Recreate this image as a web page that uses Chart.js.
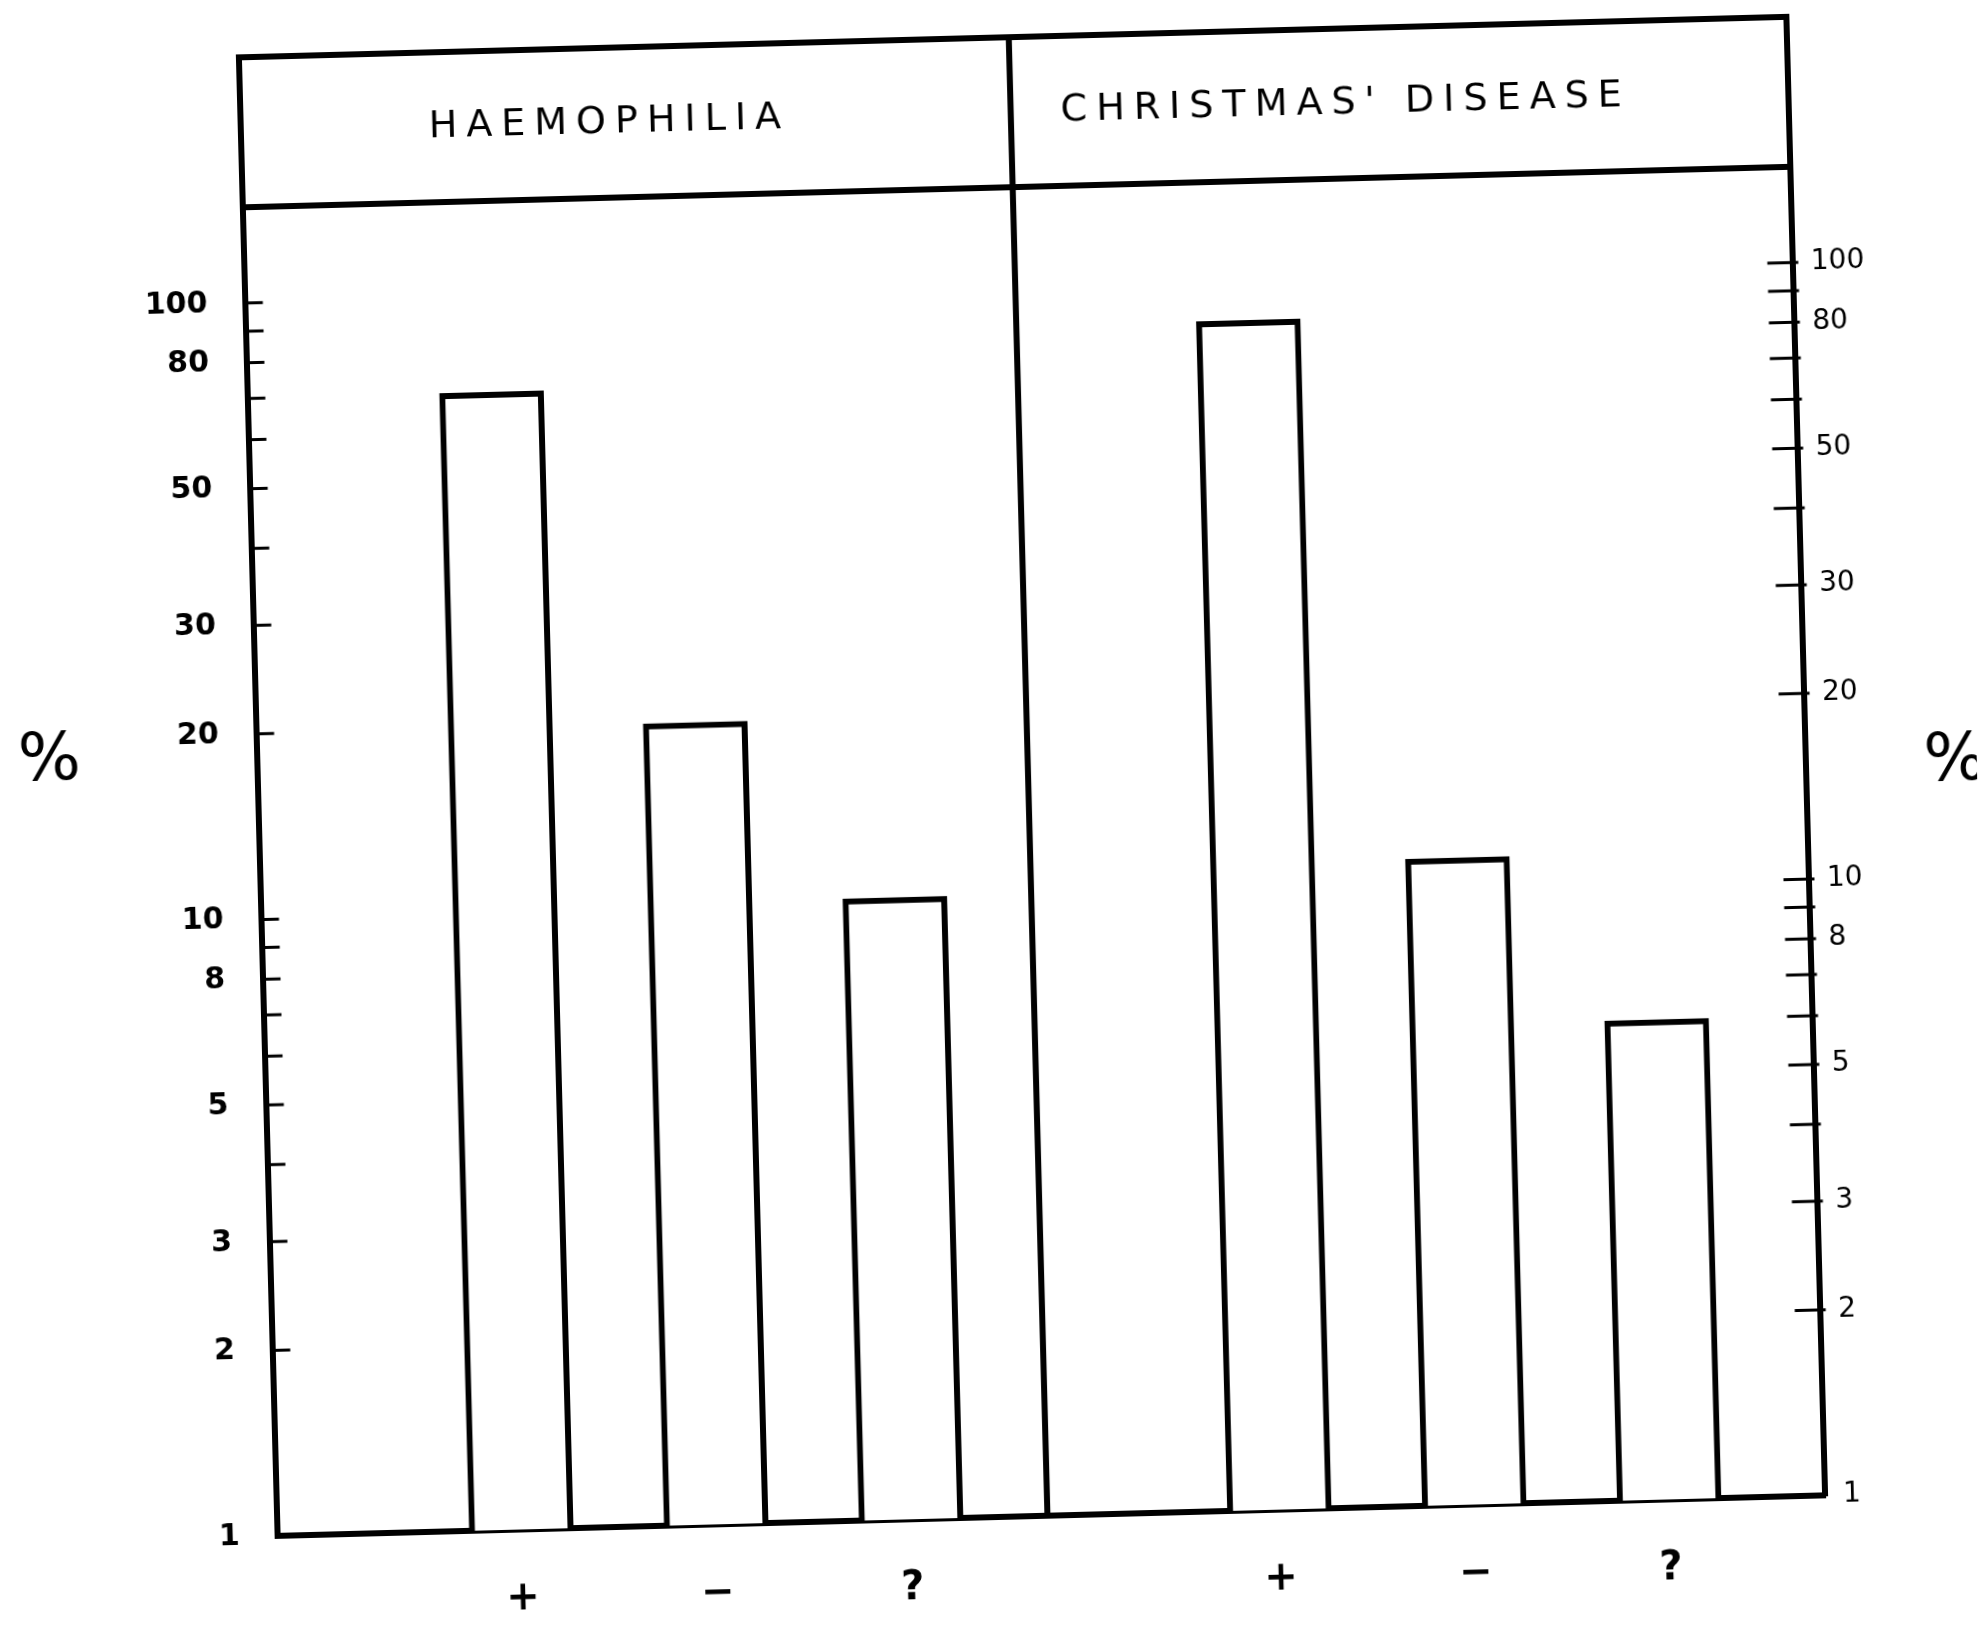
<!DOCTYPE html>
<html>
<head>
<meta charset="utf-8">
<script src="https://cdn.jsdelivr.net/npm/chart.js@4.4.1/dist/chart.umd.min.js"></script>
<style>
body{margin:0;background:#fff;overflow:hidden;}
/* the original drawing sits slightly tilted on the page */
#wrap{width:1978px;height:1630px;transform:rotate(-1.5deg);transform-origin:989px 815px;}
</style>
</head>
<body>
<div id="wrap"><canvas id="c"></canvas></div>
<script>
// DATA
const panels=["HAEMOPHILIA","CHRISTMAS' DISEASE"];
const categories=["+","−","?"];
const haemophilia=[70,20,10.2];
const christmas=[85,11.2,6];
const tickLabels=[1,2,3,5,8,10,20,30,50,80,100];
const tickMarks=[2,3,4,5,6,7,8,9,10,20,30,40,50,60,70,80,90,100];

// LAYOUT
const groupStart=[1.25,5.14];
const divider=3.95;
const xMax=7.94;
const headerTop=38;

const xTicks=[...categories.map((c,i)=>i+groupStart[0]),...categories.map((c,i)=>i+groupStart[1])];
const xLabels=[...categories,...categories];

// FRAME, HEADER, TICK MARKS
const frame={
  id:'frame',
  afterDraw(chart){
    const {ctx,chartArea:a,scales}=chart;
    const xd=scales.x.getPixelForValue(divider);
    ctx.save();
    ctx.strokeStyle='#000';ctx.lineWidth=6;ctx.lineCap='square';
    ctx.beginPath();
    ctx.moveTo(a.left,a.top);ctx.lineTo(a.left,headerTop);ctx.lineTo(a.right,headerTop);ctx.lineTo(a.right,a.top);
    ctx.moveTo(a.left,a.top);ctx.lineTo(a.right,a.top);
    ctx.moveTo(xd,headerTop);ctx.lineTo(xd,a.bottom);
    ctx.stroke();
    ctx.lineWidth=3;
    tickMarks.forEach(v=>{
      const yl=scales.yL.getPixelForValue(v),yr=scales.yR.getPixelForValue(v);
      ctx.beginPath();
      ctx.moveTo(a.left,yl);ctx.lineTo(a.left+16,yl);
      ctx.moveTo(a.right-24,yr);ctx.lineTo(a.right+4,yr);
      ctx.stroke();
    });
    ctx.fillStyle='#000';ctx.textBaseline='middle';ctx.textAlign='left';
    ctx.font='38px "DejaVu Sans"';ctx.letterSpacing='9px';
    const hy=(headerTop+a.top)/2;
    ctx.fillText(panels[0],a.left+188,hy);
    ctx.fillText(panels[1],xd+50,hy);
    ctx.letterSpacing='0px';
    ctx.font='66px "DejaVu Sans"';ctx.textAlign='center';
    ctx.fillText('%',51,738);
    ctx.fillText('%',1956,788);
    ctx.restore();
  }
};

function yAxis(pos,width,pad,font){
  return {
    type:'logarithmic',position:pos,min:1,max:143,
    grid:{display:false,drawTicks:false},
    border:{display:true,color:'#000',width:6},
    afterBuildTicks:s=>{s.ticks=tickLabels.map(v=>({value:v}));},
    afterFit:s=>{s.width=width;},
    ticks:{padding:pad,color:'#000',font:font,autoSkip:false,callback:v=>String(v)}
  };
}

const bar={backgroundColor:'#fff',borderColor:'#000',borderWidth:6,barThickness:104,grouped:false};

new Chart(document.getElementById('c'),{
  type:'bar',
  data:{
    datasets:[
      {...bar,label:panels[0],yAxisID:'yL',data:haemophilia.map((v,i)=>({x:i+groupStart[0],y:v}))},
      {...bar,label:panels[1],yAxisID:'yR',data:christmas.map((v,i)=>({x:i+groupStart[1],y:v}))}
    ]
  },
  options:{
    responsive:true,maintainAspectRatio:false,animation:false,
    layout:{padding:{top:188,left:0,right:0,bottom:0}},
    plugins:{legend:{display:false},tooltip:{enabled:false}},
    scales:{
      x:{
        type:'linear',min:0,max:xMax,offset:false,
        grid:{display:false,drawTicks:false,offset:false},
        border:{display:true,color:'#000',width:6},
        afterBuildTicks:s=>{s.ticks=xTicks.map(v=>({value:v}));},
        afterFit:s=>{s.height=113;},
        ticks:{padding:46,color:'#000',font:{family:'DejaVu Sans',size:40,weight:'bold'},autoSkip:false,maxRotation:0,
          callback:(v,i)=>xLabels[i]}
      },
      yL:yAxis('left',259,38,{family:'DejaVu Sans',size:30,weight:'bold'}),
      yR:yAxis('right',171,18,{family:'DejaVu Sans',size:28})
    }
  },
  plugins:[frame]
});
</script>
</body>
</html>
